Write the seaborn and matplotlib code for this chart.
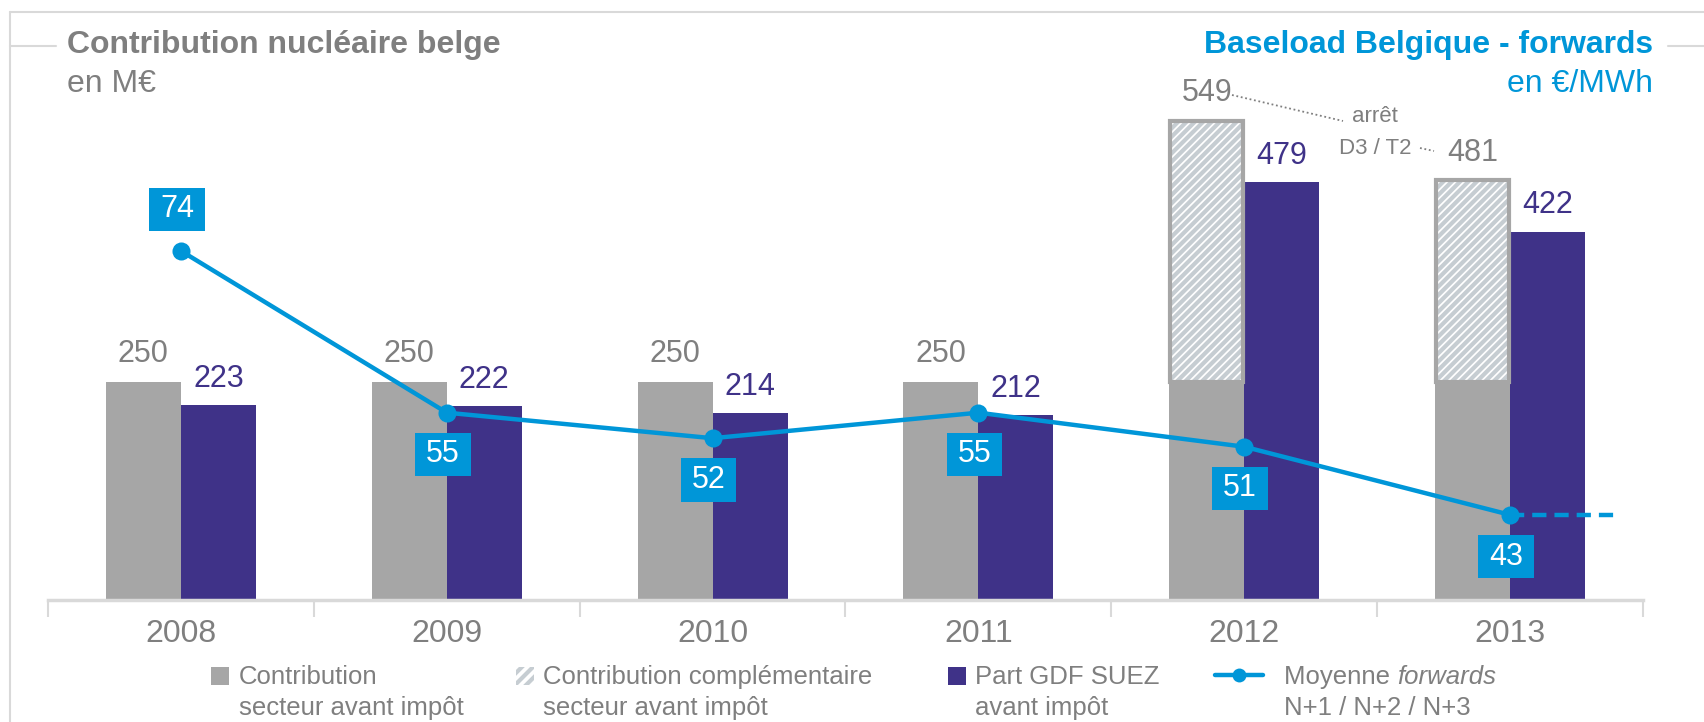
import numpy as np
import pandas as pd
import matplotlib
matplotlib.use("Agg")
import matplotlib.pyplot as plt
import seaborn as sns
from matplotlib.lines import Line2D
from matplotlib.patches import Rectangle
from matplotlib.path import Path

# ---------------- data ----------------
years = ["2008", "2009", "2010", "2011", "2012", "2013"]
contribution = [250, 250, 250, 250, 250, 250]
complement = [0, 0, 0, 0, 299, 231]
gdf_part = [223, 222, 214, 212, 479, 422]
forwards = [74, 55, 52, 55, 51, 43]

legend_labels = ["Contribution\nsecteur avant impôt",
                 "Contribution complémentaire\nsecteur avant impôt",
                 "Part GDF SUEZ\navant impôt"]

# ---------------- style ----------------
sns.set_theme(style="white")
plt.rcParams["font.family"] = ["Liberation Sans", "DejaVu Sans"]
plt.rcParams["hatch.linewidth"] = 3.0

GREY = "#A6A6A6"
TXT = "#7F7F7F"
PURPLE = "#3F3288"
BLUE = "#0096D8"
LINE = "#D9D9D9"
HATCH = "#C6CDD2"

W, H = 1704, 722
fig = plt.figure(figsize=(W / 100, H / 100), dpi=100)
fx = lambda x: x / W
fy = lambda y: 1 - y / H

ax = fig.add_axes([fx(48), fy(600), fx(1643) - fx(48), (600 - 80) / H])

df = pd.DataFrame({
    "year": years * 2,
    "serie": ["contrib"] * 6 + ["gdf"] * 6,
    "value": contribution + gdf_part,
})
sns.barplot(data=df, x="year", y="value", hue="serie", order=years,
            hue_order=["contrib", "gdf"], palette=[GREY, PURPLE],
            width=0.564, dodge=True, legend=False, saturation=1, ax=ax,
            errorbar=None, linewidth=0)

grey_bars = ax.containers[0]
purple_bars = ax.containers[1]
gx = [p.get_x() + p.get_width() / 2 for p in grey_bars]
bw = grey_bars[0].get_width()
px = [p.get_x() + p.get_width() / 2 for p in purple_bars]

# hatched complementary contribution
for i, c in enumerate(complement):
    if c > 0:
        ax.bar(gx[i], c, bottom=contribution[i], width=bw, color="white",
               hatch="////", edgecolor=HATCH, linewidth=0, zorder=2)
        ax.bar(gx[i], c, bottom=contribution[i], width=bw - 0.008, color="none",
               edgecolor=GREY, linewidth=3, zorder=3)

# value labels
for i in range(6):
    tot = contribution[i] + complement[i]
    ax.annotate(str(tot), (gx[i], tot), xytext=(0, 20), textcoords="offset points",
                ha="center", va="center", fontsize=22, color=TXT)
    ax.annotate(str(gdf_part[i]), (px[i], gdf_part[i]), xytext=(0, 19),
                textcoords="offset points", ha="center", va="center",
                fontsize=22, color=PURPLE)

ax.set_ylim(0, 596)
ax.set_xlim(-0.5, 5.5)
ax.set_yticks([])
ax.set_ylabel("")
ax.set_xlabel("")
for s in ["top", "right", "left"]:
    ax.spines[s].set_visible(False)
ax.spines["bottom"].set_color(LINE)
ax.spines["bottom"].set_linewidth(2.5)
ax.set_xticks(range(6))
ax.set_xticklabels(years, fontsize=23, color=TXT)
ax.tick_params(axis="x", which="major", length=0, pad=14)
ax.set_xticks(np.arange(-0.5, 6, 1), minor=True)
ax.tick_params(axis="x", which="minor", length=12, width=1.5, color=LINE,
               direction="out", bottom=True)

# ---------------- line (secondary axis) ----------------
ax2 = ax.twinx()
sns.lineplot(x=list(range(6)), y=forwards, ax=ax2, color=BLUE, linewidth=3.2,
             marker="o", markersize=13, markeredgewidth=0)
ax2.plot([5, 5.41], [forwards[-1], forwards[-1]], color=BLUE, linewidth=3.2,
         linestyle=(0, (3.2, 1.8)))
ax2.set_ylim(33.0, 94.07)
ax2.set_xlim(-0.5, 5.5)
ax2.axis("off")


def wide_box(x0, y0, width, height, mutation_size):
    padx = 0.36 * mutation_size
    pady = 0.22 * mutation_size
    x0, y0 = x0 - padx, y0 - pady
    x1, y1 = x0 + width + 2 * padx, y0 + height + 2 * pady
    return Path([(x0, y0), (x1, y0), (x1, y1), (x0, y1), (x0, y0)], closed=True)


for i, v in enumerate(forwards):
    off = 30 if i == 0 else -30
    ax2.annotate(str(v), (i - 0.015, v), xytext=(0, off), textcoords="offset points",
                 ha="center", va="center", fontsize=22, color="white",
                 bbox=dict(boxstyle=wide_box, fc=BLUE, ec="none"))

# ---------------- annotation arrêt D3/T2 ----------------
fig.text(fx(1375), fy(117), "arrêt", ha="center", va="center", fontsize=16, color=TXT)
fig.text(fx(1375), fy(148), "D3 / T2", ha="center", va="center", fontsize=16, color=TXT)
fig.add_artist(Line2D([fx(1232), fx(1343)], [fy(95), fy(121)], color=TXT,
                      linewidth=1.3, linestyle=(0, (1, 1.5))))
fig.add_artist(Line2D([fx(1420), fx(1434)], [fy(148), fy(151)], color=TXT,
                      linewidth=1.3, linestyle=(0, (1, 1.5))))

# ---------------- titles and frame ----------------
fig.text(fx(67), fy(45), "Contribution nucléaire belge", ha="left", va="center",
         fontsize=23, fontweight="bold", color=TXT)
fig.text(fx(67), fy(84), "en M€", ha="left", va="center", fontsize=23, color=TXT)
fig.text(fx(1653), fy(45), "Baseload Belgique - forwards", ha="right", va="center",
         fontsize=23, fontweight="bold", color=BLUE)
fig.text(fx(1653), fy(84), "en €/MWh", ha="right", va="center", fontsize=23, color=BLUE)

for xs, ys in [([10, 1704], [12, 12]), ([10, 10], [12, 722]),
               ([10, 56], [46, 46]), ([1668, 1704], [46, 46])]:
    fig.add_artist(Line2D([fx(x) for x in xs], [fy(y) for y in ys],
                          color=LINE, linewidth=1.5))

# ---------------- legend ----------------
LFS = 18.5
sq = 18
for x0, kind in [(211, "grey"), (516, "hatch"), (948, "purple")]:
    if kind == "grey":
        r = Rectangle((fx(x0), fy(685)), fx(sq), sq / H, transform=fig.transFigure,
                      color=GREY, lw=0)
    elif kind == "hatch":
        r = Rectangle((fx(x0), fy(685)), fx(sq), sq / H, transform=fig.transFigure,
                      facecolor="white", hatch="///", edgecolor=HATCH, lw=0)
    else:
        r = Rectangle((fx(x0), fy(685)), fx(sq), sq / H, transform=fig.transFigure,
                      color=PURPLE, lw=0)
    fig.add_artist(r)

for x0, lab in zip([239, 543, 975], legend_labels):
    l1, l2 = lab.split("\n")
    fig.text(fx(x0), fy(677), l1, ha="left", va="center", fontsize=LFS, color=TXT)
    fig.text(fx(x0), fy(708), l2, ha="left", va="center", fontsize=LFS, color=TXT)

fig.add_artist(Line2D([fx(1215), fx(1263)], [fy(675), fy(675)], color=BLUE,
                      linewidth=3.2, transform=fig.transFigure))
fig.add_artist(Line2D([fx(1239)], [fy(675)], color=BLUE, marker="o",
                      markersize=10, markeredgewidth=0, linestyle="none",
                      transform=fig.transFigure))
t1 = fig.text(fx(1284), fy(677), "Moyenne ", ha="left", va="center", fontsize=LFS,
              color=TXT)
fig.canvas.draw()
bb = t1.get_window_extent(renderer=fig.canvas.get_renderer())
fig.text(bb.x1 / W, fy(677), "forwards", ha="left", va="center", fontsize=LFS,
         color=TXT, style="italic")
fig.text(fx(1284), fy(708), "N+1 / N+2 / N+3", ha="left", va="center", fontsize=LFS,
         color=TXT)

fig.savefig("out.png", dpi=100)
